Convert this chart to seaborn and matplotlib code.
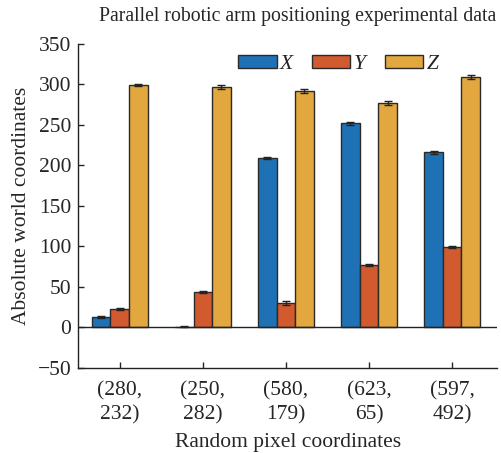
import matplotlib
matplotlib.use("Agg")
import matplotlib.pyplot as plt
import seaborn as sns
import pandas as pd
import numpy as np

categories = ["(280,\n232)", "(250,\n282)", "(580,\n179)", "(623,\n65)", "(597,\n492)"]
series = ["X", "Y", "Z"]
x_vals = [13, 1, 209, 252, 216]
y_vals = [23, 44, 30, 77, 99]
z_vals = [299, 297, 292, 277, 309]
x_err = [1, 0.5, 1.5, 1.5, 2]
y_err = [1.5, 1.5, 2, 1.5, 1]
z_err = [1.5, 2.5, 2.5, 3, 2.5]
colors = ["#1f71b6", "#d15a2f", "#e2a73e"]

rows = []
for s, vals, errs in zip(series, [x_vals, y_vals, z_vals], [x_err, y_err, z_err]):
    for c, v, e in zip(categories, vals, errs):
        rows.append({"cat": c, "series": s, "val": v, "err": e})
df = pd.DataFrame(rows)

sns.set_style("ticks")
plt.rcParams['font.family'] = ['Liberation Serif', 'DejaVu Serif']
plt.rcParams['mathtext.fontset'] = 'custom'
plt.rcParams['mathtext.it'] = 'Liberation Serif:italic'
plt.rcParams['mathtext.rm'] = 'Liberation Serif'

fig = plt.figure(figsize=(5.01, 4.53), dpi=100)
ax = fig.add_axes([0.156, 0.188, 0.836, 0.715])

sns.barplot(data=df, x="cat", y="val", hue="series", palette=colors,
            width=0.67, edgecolor="#2a2a2a", linewidth=1.0, errorbar=None,
            saturation=1, ax=ax, legend=True)

for cont, s in zip(ax.containers, series):
    sub = df[df.series == s]
    xs = [p.get_x() + p.get_width() / 2 for p in cont.patches]
    ax.errorbar(xs, sub["val"].values, yerr=sub["err"].values, fmt="none",
                ecolor="#222222", elinewidth=1.0, capsize=3, capthick=1.0)

ax.axhline(0, color="#222222", lw=1.0)
ax.set_ylim(-50, 350)
ax.set_xlim(-0.5, 4.54)
ax.set_yticks(np.arange(-50, 351, 50))
ax.set_yticklabels(["\u221250"] + [str(v) for v in range(0, 351, 50)])
ax.tick_params(direction="in", labelsize=15.5, width=1, length=4)
ax.tick_params(axis="y", pad=5)
ax.tick_params(axis="x", pad=10)
for lab in ax.get_xticklabels():
    lab.set_linespacing(1.28)
sns.despine(ax=ax)
for sp in ["left", "bottom"]:
    ax.spines[sp].set_linewidth(1.0)
    ax.spines[sp].set_color("#222222")

ax.set_xlabel("Random pixel coordinates", fontsize=15.5, labelpad=6)
ax.set_ylabel("Absolute world coordinates", fontsize=15.5, labelpad=5)
fig.suptitle("Parallel robotic arm positioning experimental data", fontsize=14.2, x=0.595, y=0.985)

handles, labels = ax.get_legend_handles_labels()
ax.legend(handles, ["$X$", "$Y$", "$Z$"], ncol=3, frameon=False, fontsize=15.5,
          loc="upper right", bbox_to_anchor=(0.894, 1.007), handlelength=1.8,
          handleheight=0.55, handletextpad=0.1, columnspacing=0.75, borderaxespad=0.2)

fig.savefig("out.png", dpi=100)
